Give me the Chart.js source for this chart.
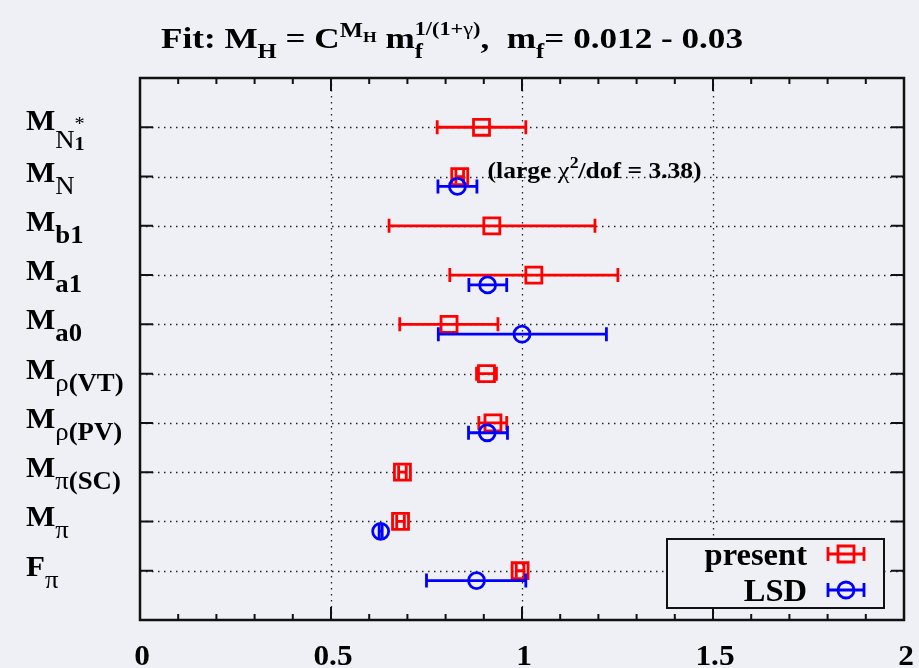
<!DOCTYPE html>
<html><head><meta charset="utf-8">
<script src="https://cdn.jsdelivr.net/npm/chart.js@4.4.1/dist/chart.umd.min.js"></script>
<style>html,body{margin:0;padding:0;background:#eff0f5;overflow:hidden}canvas{display:block}</style>
</head><body>
<canvas id="c" width="919" height="668"></canvas>
<script>
// ---------- data ----------
const categories = [
  [['M','B'],['N','S'],['1','SS'],['*','SUP']],
  [['M','B'],['N','S']],
  [['M','B'],['b1','SB']],
  [['M','B'],['a1','SB']],
  [['M','B'],['a0','SB']],
  [['M','B'],['ρ','S'],['(VT)','SB']],
  [['M','B'],['ρ','S'],['(PV)','SB']],
  [['M','B'],['π','S'],['(SC)','SB']],
  [['M','B'],['π','S']],
  [['F','B'],['π','S']]
];
const xTicks = [0, 0.5, 1, 1.5, 2];
const xTickLabels = ['0', '0.5', '1', '1.5', '2'];
const xMinorTicks = [0.1,0.2,0.3,0.4,0.6,0.7,0.8,0.9,1.1,1.2,1.3,1.4,1.6,1.7,1.8,1.9];
const seriesLabels = ['present', 'LSD'];
const presentValues = [0.894, 0.837, 0.921, 1.031, 0.809, 0.907, 0.924, 0.687, 0.682, 0.995];
const presentLow    = [0.778, 0.827, 0.652, 0.811, 0.680, 0.881, 0.887, 0.677, 0.672, 0.985];
const presentHigh   = [1.010, 0.847, 1.191, 1.251, 0.937, 0.933, 0.960, 0.697, 0.692, 1.005];
const lsdValues = [null, 0.831, null, 0.910, 1.000, null, 0.909, null, 0.630, 0.881];
const lsdLow    = [null, 0.780, null, 0.861, 0.781, null, 0.860, null, 0.626, 0.750];
const lsdHigh   = [null, 0.882, null, 0.960, 1.221, null, 0.962, null, 0.634, 1.010];
const noteCategory = 1;      // row of M_N
const noteXValue = 0.91;     // where the note starts on the x axis

// ---------- helpers ----------
const FONT = '"Liberation Serif", "Times New Roman", serif';
function fnt(size, bold) { return (bold ? 'bold ' : '') + size + 'px ' + FONT; }

function richLayout(ctx, segs) {
  let cx = 0; const out = [];
  for (const s of segs) {
    ctx.font = fnt(s.size, s.bold);
    const w = ctx.measureText(s.t).width;
    if (s.stack && out.length) {
      const p = out[out.length - 1];
      out.push(Object.assign({}, s, {x: p.x, w}));
      cx = Math.max(p.x + p.w, p.x + w);
    } else {
      out.push(Object.assign({}, s, {x: cx, w}));
      cx += w;
    }
  }
  return {items: out, width: cx};
}
function drawRich(ctx, x, y, segs, stretch, align, fitWidth) {
  const L = richLayout(ctx, segs);
  if (fitWidth) stretch = fitWidth / L.width;
  const tw = L.width * stretch;
  if (align === 'right') x -= tw; else if (align === 'center') x -= tw / 2;
  ctx.save();
  ctx.translate(x, y); ctx.scale(stretch, 1);
  ctx.fillStyle = '#000'; ctx.textAlign = 'left'; ctx.textBaseline = 'alphabetic';
  for (const e of L.items) { ctx.font = fnt(e.size, e.bold); ctx.fillText(e.t, e.x, e.dy || 0); }
  ctx.restore();
}

const roleStyle = {
  B:   {size: 29, bold: true,  dy: 0},
  S:   {size: 25, bold: false, dy: 12},
  SB:  {size: 25, bold: true,  dy: 12},
  SS:  {size: 19, bold: true,  dy: 20},
  SUP: {size: 19, bold: false, dy: 0, stack: true}
};

function drawErrorBar(ctx, x1, x2, y, color) {
  ctx.save();
  ctx.strokeStyle = color; ctx.lineWidth = 2.8;
  ctx.beginPath();
  ctx.moveTo(x1, y); ctx.lineTo(x2, y);
  ctx.moveTo(x1, y - 7); ctx.lineTo(x1, y + 7);
  ctx.moveTo(x2, y - 7); ctx.lineTo(x2, y + 7);
  ctx.stroke();
  ctx.restore();
}

const presentData = presentValues.map((v, i) => ({x: v, y: i + 1, lo: presentLow[i], hi: presentHigh[i]}));
const lsdData = [];
lsdValues.forEach((v, i) => { if (v !== null) lsdData.push({x: v, y: i + 1.2, lo: lsdLow[i], hi: lsdHigh[i]}); });

const decor = {
  id: 'decor',
  beforeDatasetsDraw(chart) {
    const {ctx, chartArea: a, scales: {x, y}} = chart;
    ctx.save();
    ctx.strokeStyle = '#222'; ctx.lineWidth = 1.3; ctx.setLineDash([1.5, 4.5]);
    ctx.beginPath();
    xTicks.forEach(v => { if (v > x.min && v < x.max) { const px = Math.round(x.getPixelForValue(v)) + 0.5; ctx.moveTo(px, a.top); ctx.lineTo(px, a.bottom); } });
    categories.forEach((c, i) => { const py = Math.round(y.getPixelForValue(i + 1)) + 0.5; ctx.moveTo(a.left, py); ctx.lineTo(a.right, py); });
    ctx.stroke();
    ctx.restore();
  },
  beforeDatasetDraw(chart, args) {
    const {ctx, scales: {x, y}} = chart;
    const ds = chart.data.datasets[args.index];
    ds.data.forEach(p => {
      drawErrorBar(ctx, x.getPixelForValue(p.lo), x.getPixelForValue(p.hi), y.getPixelForValue(p.y), ds.borderColor);
    });
  },
  afterDatasetsDraw(chart) {
    const {ctx, chartArea: a, scales: {x, y}} = chart;
    // frame
    ctx.save();
    ctx.strokeStyle = '#111'; ctx.lineWidth = 2.5;
    ctx.strokeRect(a.left, a.top, a.right - a.left, a.bottom - a.top);
    ctx.lineWidth = 2;
    ctx.beginPath();
    xTicks.forEach(v => { if (v > x.min && v < x.max) { const px = x.getPixelForValue(v); ctx.moveTo(px, a.bottom); ctx.lineTo(px, a.bottom - 13); ctx.moveTo(px, a.top); ctx.lineTo(px, a.top + 13); } });
    xMinorTicks.forEach(v => { const px = x.getPixelForValue(v); ctx.moveTo(px, a.bottom); ctx.lineTo(px, a.bottom - 6); ctx.moveTo(px, a.top); ctx.lineTo(px, a.top + 6); });
    categories.forEach((c, i) => { const py = y.getPixelForValue(i + 1); ctx.moveTo(a.left, py); ctx.lineTo(a.left + 13, py); ctx.moveTo(a.right, py); ctx.lineTo(a.right - 13, py); });
    ctx.stroke();
    ctx.restore();

    // x tick labels
    xTicks.forEach((v, i) => {
      drawRich(ctx, x.getPixelForValue(v) + 2, a.bottom + 45, [{t: xTickLabels[i], size: 29, bold: true}], 1.08, 'center');
    });

    // y category labels
    categories.forEach((segs, i) => {
      const hasSS = segs.some(s => s[1] === 'SS');
      const base = y.getPixelForValue(i + 1) + (hasSS ? 3 : 5);
      const rs = segs.map(([t, r]) => Object.assign({t}, roleStyle[r], (hasSS && (r === 'S')) ? {dy: 18} : {}));
      drawRich(ctx, 26, base, rs, 1.07, 'left');
    });

    // note
    const nx = x.getPixelForValue(noteXValue), ny = y.getPixelForValue(noteCategory + 1) + 1;
    drawRich(ctx, nx, ny, [
      {t: '(large ', size: 23, bold: true},
      {t: 'χ', size: 24, bold: false},
      {t: '2', size: 16, bold: true, dy: -10},
      {t: '/dof = 3.38)', size: 23, bold: true}
    ], 1.1, 'left', 214);

    // legend
    const lw = 217, lh = 69;
    const lx = a.right - 20 - lw, ly = a.bottom - 12 - lh;
    ctx.save();
    ctx.fillStyle = '#eff0f5'; ctx.fillRect(lx, ly, lw, lh);
    ctx.strokeStyle = '#111'; ctx.lineWidth = 2; ctx.strokeRect(lx, ly, lw, lh);
    ctx.restore();
    chart.data.datasets.forEach((ds, k) => {
      const by = ly + 26 + k * 36;
      drawRich(ctx, lx + lw - 77, by, [{t: ds.label, size: 31, bold: true}], 1.05, 'right');
      const cx = lx + lw - 38, cy = by - 11;
      drawErrorBar(ctx, cx - 18, cx + 18, cy, ds.borderColor);
      ctx.save();
      ctx.strokeStyle = ds.borderColor; ctx.lineWidth = 2.8;
      ctx.beginPath();
      if (ds.pointStyle === 'rect') ctx.rect(cx - 8, cy - 8, 16, 16); else ctx.arc(cx, cy, 8, 0, Math.PI * 2);
      ctx.stroke();
      ctx.restore();
    });

    // title
    drawRich(ctx, 161, 48, [
      {t: 'Fit: M', size: 30, bold: true},
      {t: 'H', size: 21, bold: true, dy: 10},
      {t: ' = C', size: 30, bold: true},
      {t: 'M', size: 21, bold: true, dy: -11},
      {t: 'H', size: 15, bold: true, dy: -6},
      {t: ' m', size: 30, bold: true},
      {t: 'f', size: 21, bold: true, dy: 10},
      {t: '1/(1+', size: 19, bold: true, dy: -13, stack: true},
      {t: 'γ', size: 19, bold: false, dy: -13},
      {t: ')', size: 19, bold: true, dy: -13},
      {t: ',  m', size: 30, bold: true},
      {t: 'f', size: 21, bold: true, dy: 10},
      {t: '= 0.012 - 0.03', size: 30, bold: true}
    ], 1.1, 'left', 582);
  }
};

new Chart(document.getElementById('c'), {
  type: 'scatter',
  data: {
    datasets: [
      {label: seriesLabels[0], data: presentData, order: 2, pointStyle: 'rect', pointRadius: 11.3, pointHoverRadius: 11.3,
       borderColor: '#ff0000', backgroundColor: 'rgba(0,0,0,0)', borderWidth: 2.8, pointBorderWidth: 2.8, showLine: false},
      {label: seriesLabels[1], data: lsdData, order: 1, pointStyle: 'circle', pointRadius: 8, pointHoverRadius: 8,
       borderColor: '#0000ff', backgroundColor: 'rgba(0,0,0,0)', borderWidth: 2.8, pointBorderWidth: 2.8, showLine: false}
    ]
  },
  options: {
    responsive: false, animation: false, devicePixelRatio: 1,
    events: [],
    layout: {padding: {top: 78, right: 15, left: 0, bottom: 0}},
    plugins: {legend: {display: false}, tooltip: {enabled: false}, title: {display: false}},
    scales: {
      x: {type: 'linear', min: 0, max: 2, grid: {display: false}, border: {display: false}, ticks: {display: false},
          afterFit: s => { s.height = 48; }},
      y: {type: 'linear', min: 0, max: 11, reverse: true, grid: {display: false}, border: {display: false}, ticks: {display: false},
          afterFit: s => { s.width = 140; }}
    }
  },
  plugins: [decor]
});
</script>
</body></html>
